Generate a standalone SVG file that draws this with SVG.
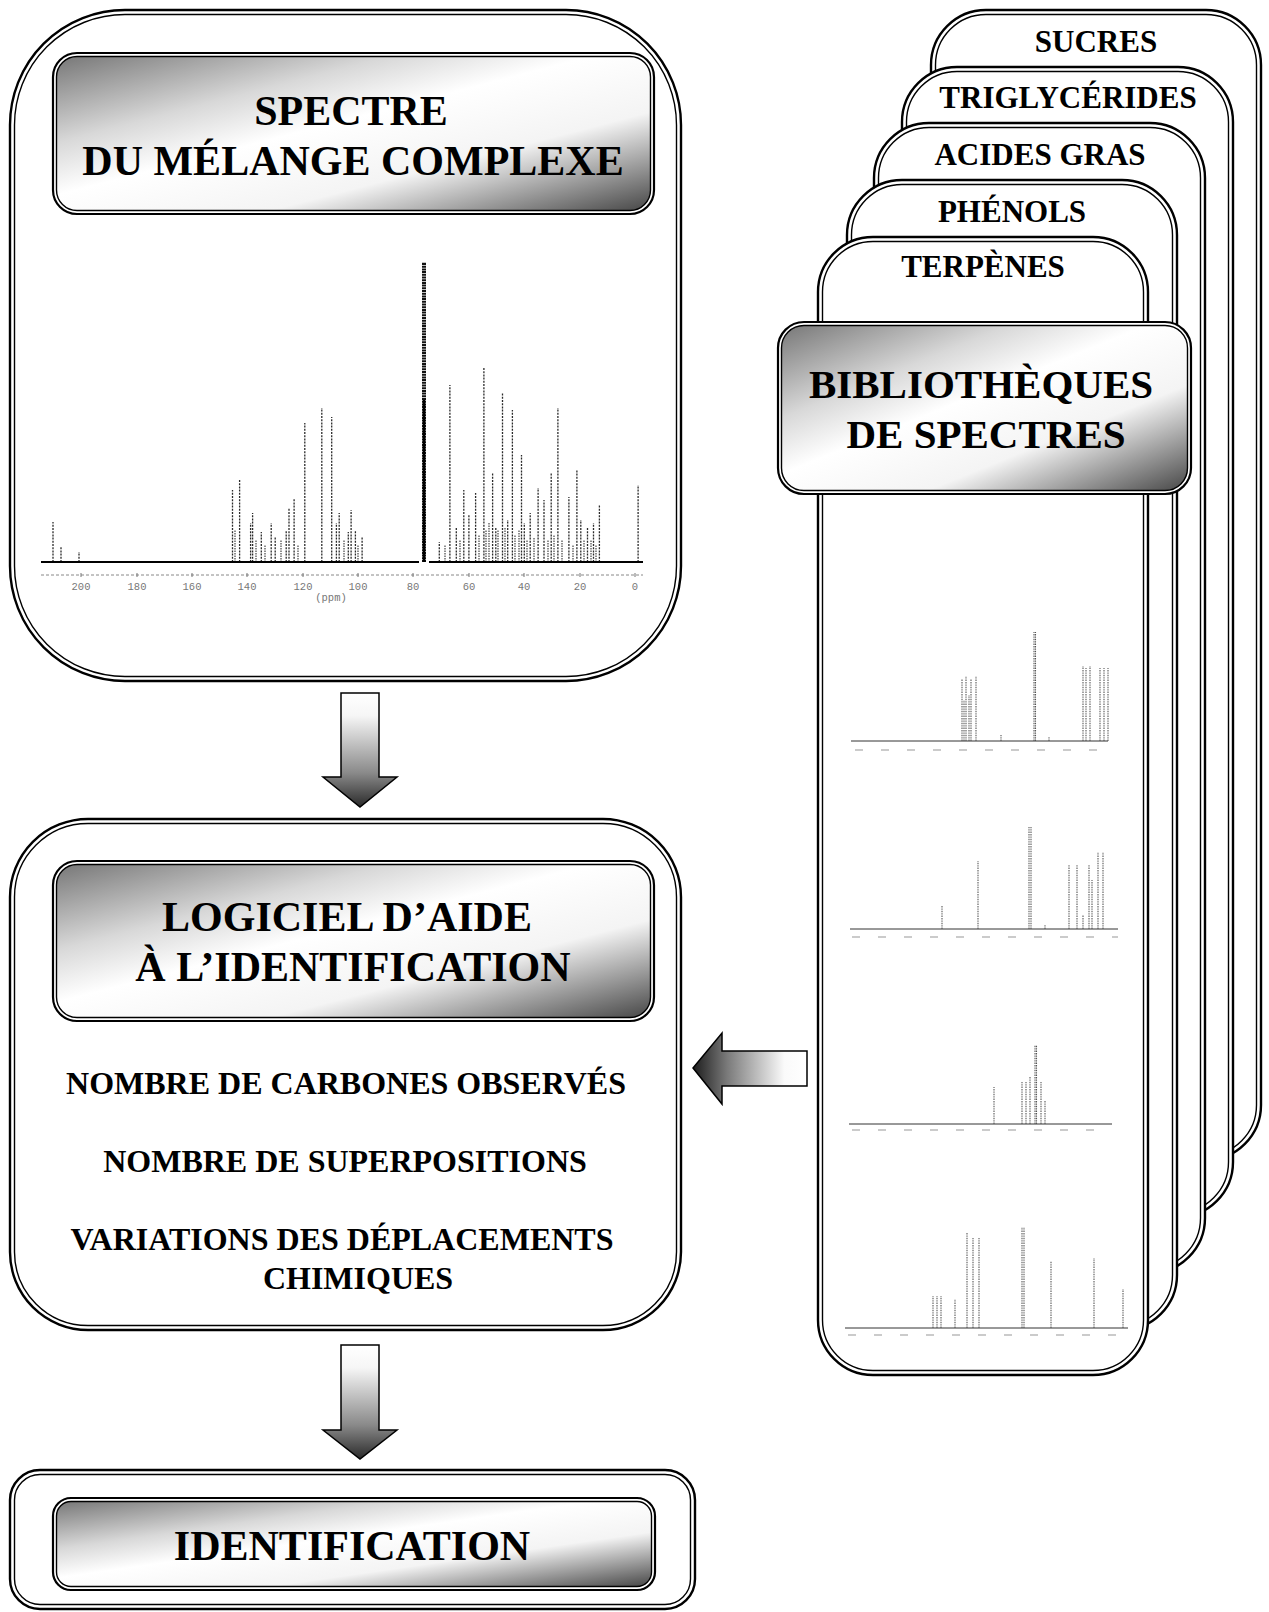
<svg xmlns="http://www.w3.org/2000/svg" width="1269" height="1612" viewBox="0 0 1269 1612">
<style>
.o{fill:#fff;stroke:#000;stroke-width:2.4}
.i{fill:none;stroke:#000;stroke-width:1.4}
.ho{fill:#fff;stroke:#000;stroke-width:2.2}
.hi{fill:url(#hg);stroke:#000;stroke-width:1.4}
.t{font-family:"Liberation Serif","Times New Roman",serif;font-weight:bold;fill:#000;text-anchor:middle}
.pk{fill:none;stroke:#2a2a2a;stroke-width:1.3;stroke-dasharray:2 1.2}
.pk2{fill:none;stroke:#444;stroke-width:1.2;stroke-dasharray:1.5 1}
.spk{fill:none;stroke:#555;stroke-width:1.1;stroke-dasharray:1.4 1}
.bl{fill:none;stroke:#000;stroke-width:2.2}
.sbl{fill:none;stroke:#333;stroke-width:1}
.axl{fill:none;stroke:#888;stroke-width:1;stroke-dasharray:3 2}
.sax{fill:none;stroke:#bbb;stroke-width:1.5;stroke-dasharray:8 18}
.ax{font-family:"Liberation Mono","Courier New",monospace;font-size:10.5px;fill:#777;text-anchor:middle}
.arr{stroke:#000;stroke-width:1.5}
</style>
<defs>
<linearGradient id="hg" x1="0" y1="0" x2="1" y2="1">
<stop offset="0" stop-color="#777"/>
<stop offset="0.28" stop-color="#d8d8d8"/>
<stop offset="0.45" stop-color="#fff"/>
<stop offset="0.68" stop-color="#f4f4f4"/>
<stop offset="1" stop-color="#474747"/>
</linearGradient>
<linearGradient id="dg" x1="0" y1="0" x2="0" y2="1">
<stop offset="0" stop-color="#fff"/>
<stop offset="0.2" stop-color="#f6f6f6"/>
<stop offset="0.7" stop-color="#8a8a8a"/>
<stop offset="1" stop-color="#2a2a2a"/>
</linearGradient>
<linearGradient id="lg" x1="0" y1="0" x2="1" y2="0">
<stop offset="0" stop-color="#1c1c1c"/>
<stop offset="0.3" stop-color="#7a7a7a"/>
<stop offset="0.8" stop-color="#fafafa"/>
<stop offset="1" stop-color="#fff"/>
</linearGradient>
</defs>

<g id="spectre-melange">
<rect class="o" x="10" y="10" width="671" height="671" rx="115"/>
<rect class="i" x="14.5" y="14.5" width="662" height="662" rx="110.5"/>
<rect class="ho" x="53" y="53" width="601" height="161" rx="24"/>
<rect class="hi" x="56.5" y="56.5" width="594" height="154" rx="20.5"/>
<text class="t" x="351" y="125" font-size="42">SPECTRE</text>
<text class="t" x="353" y="175" font-size="42">DU MÉLANGE COMPLEXE</text>
<g id="spectrum-main">
<path class="pk" d="M53 562V522M61 562V547M79 562V552M232.5 562V490M239.6 562V480M250.6 562V523M252.6 562V513M261.3 562V532M271.2 562V523M275.2 562V537M286.2 562V530M289 562V508M294.1 562V498M304.8 562V423M321.8 562V408M331.7 562V417M336.4 562V523M339.2 562V513M348.3 562V532M351.1 562V510M355.4 562V530M362.1 562V537M439.3 562V542M449.9 562V385M456.3 562V527M463.8 562V490M468.9 562V515M475.6 562V493M483.9 562V368M492.6 562V473M495.8 562V527M502.5 562V393M507.7 562V520M512.4 562V410M521.5 562V455M524.3 562V523M530.2 562V513M538.1 562V488M544 562V500M551.2 562V473M557.9 562V408M568.9 562V497M576.9 562V470M580.8 562V520M587.5 562V527M593.5 562V523M599.4 562V505M638.1 562V485"/>
<path class="pk2" d="M445 562V545M460 562V540M479 562V535M486 562V530M489 562V522M498 562V530M505 562V528M515 562V535M519 562V530M527 562V540M534 562V538M548 562V540M554 562V535M562 562V540M573 562V545M584 562V540M591 562V540M596 562V545M235 562V530M256 562V540M265 562V545M281 562V540M298 562V545M344 562V540M358 562V545"/>
<path d="M424 562V262" fill="none" stroke="#111" stroke-width="4" stroke-dasharray="2 0.7"/>
<path d="M424 562V400" fill="none" stroke="#000" stroke-width="2.5"/>
<path class="bl" d="M41 562H419M429 562H643"/>
<path class="axl" d="M41 575H643"/>
<path fill="none" stroke="#777" stroke-width="1" d="M81 573v4M137 573v4M192 573v4M247 573v4M303 573v4M358 573v4M413 573v4M469 573v4M524 573v4M580 573v4M635 573v4"/>
<text class="ax" x="81" y="590">200</text>
<text class="ax" x="137" y="590">180</text>
<text class="ax" x="192" y="590">160</text>
<text class="ax" x="247" y="590">140</text>
<text class="ax" x="303" y="590">120</text>
<text class="ax" x="358" y="590">100</text>
<text class="ax" x="413" y="590">80</text>
<text class="ax" x="469" y="590">60</text>
<text class="ax" x="524" y="590">40</text>
<text class="ax" x="580" y="590">20</text>
<text class="ax" x="635" y="590">0</text>
<text class="ax" x="331" y="601">(ppm)</text>
</g>
</g>

<g id="logiciel">
<rect class="o" x="10" y="819" width="671" height="511" rx="78"/>
<rect class="i" x="14.5" y="823.5" width="662" height="502" rx="73.5"/>
<rect class="ho" x="53" y="861" width="601" height="160" rx="24"/>
<rect class="hi" x="56.5" y="864.5" width="594" height="153" rx="20.5"/>
<text class="t" x="347" y="931" font-size="42">LOGICIEL D’AIDE</text>
<text class="t" x="353" y="981" font-size="42">À L’IDENTIFICATION</text>
<text class="t" x="346" y="1094" font-size="32">NOMBRE DE CARBONES OBSERVÉS</text>
<text class="t" x="345" y="1172" font-size="32">NOMBRE DE SUPERPOSITIONS</text>
<text class="t" x="342" y="1250" font-size="32">VARIATIONS DES DÉPLACEMENTS</text>
<text class="t" x="358" y="1289" font-size="32">CHIMIQUES</text>
</g>

<g id="identification">
<rect class="o" x="10" y="1470" width="685" height="139" rx="30"/>
<rect class="i" x="14.5" y="1474.5" width="676" height="130" rx="25.5"/>
<rect class="ho" x="53" y="1498" width="602" height="92" rx="18"/>
<rect class="hi" x="56.5" y="1501.5" width="595" height="85" rx="14.5"/>
<text class="t" x="352" y="1560" font-size="42">IDENTIFICATION</text>
</g>

<g id="bibliotheques">
<g id="card-sucres">
<rect class="o" x="931" y="10" width="330" height="1150" rx="55"/>
<rect class="i" x="935.5" y="14.5" width="321" height="1141" rx="50.5"/>
<text class="t" x="1096" y="52" font-size="31">SUCRES</text>
</g>
<g id="card-triglycerides">
<rect class="o" x="902" y="67" width="331" height="1150" rx="55"/>
<rect class="i" x="906.5" y="71.5" width="322" height="1141" rx="50.5"/>
<text class="t" x="1068" y="108" font-size="31">TRIGLYCÉRIDES</text>
</g>
<g id="card-acides-gras">
<rect class="o" x="874" y="123" width="331" height="1150" rx="55"/>
<rect class="i" x="878.5" y="127.5" width="322" height="1141" rx="50.5"/>
<text class="t" x="1040" y="165" font-size="31">ACIDES GRAS</text>
</g>
<g id="card-phenols">
<rect class="o" x="847" y="180" width="330" height="1150" rx="55"/>
<rect class="i" x="851.5" y="184.5" width="321" height="1141" rx="50.5"/>
<text class="t" x="1012" y="222" font-size="31">PHÉNOLS</text>
</g>
<g id="card-terpenes">
<rect class="o" x="818" y="237" width="330" height="1138" rx="55"/>
<rect class="i" x="822.5" y="241.5" width="321" height="1129" rx="50.5"/>
<text class="t" x="983" y="277" font-size="31">TERPÈNES</text>
<g id="spectra-library">
<path class="sbl" d="M851 741H1108"/>
<path class="sax" d="M855 750H1108"/>
<path class="spk" d="M962 741V679M966 741V676M971 741V679M976 741V676M964 741V700M969 741V695M1034 741V632M1035.5 741V632M1083 741V666M1086 741V668M1090 741V666M1100 741V668M1104 741V668M1108 741V668M1001 741V735M1049 741V737"/>
<path class="sbl" d="M850 929H1118"/>
<path class="sax" d="M852 937H1118"/>
<path class="spk" d="M942 929V906M978 929V861M1029 929V827M1031 929V827M1069 929V865M1077 929V865M1089 929V865M1092 929V880M1098 929V852M1103 929V852M1045 929V925M1083 929V915"/>
<path class="sbl" d="M849 1124H1112"/>
<path class="sax" d="M852 1130H1112"/>
<path class="spk" d="M994 1124V1087M1022 1124V1082M1026 1124V1082M1030 1124V1077M1035 1124V1045M1036.5 1124V1045M1041 1124V1082M1045 1124V1100"/>
<path class="sbl" d="M845 1328H1128"/>
<path class="sax" d="M848 1335H1128"/>
<path class="spk" d="M933 1328V1296M937 1328V1296M941 1328V1296M955 1328V1299M967 1328V1233M973 1328V1238M979 1328V1238M1022 1328V1227M1024 1328V1227M1051 1328V1261M1094 1328V1258M1123 1328V1289"/>
</g>
</g>
<g id="header-bibliotheques">
<rect class="ho" x="778" y="322" width="413" height="172" rx="26"/>
<rect class="hi" x="781.5" y="325.5" width="406" height="165" rx="22.5"/>
<text class="t" x="981" y="398" font-size="41">BIBLIOTHÈQUES</text>
<text class="t" x="986" y="448" font-size="41">DE SPECTRES</text>
</g>
</g>

<g id="connectors">
<polygon class="arr" fill="url(#dg)" points="341,693 379,693 379,777 397,777 360,807 323,777 341,777"/>
<polygon class="arr" fill="url(#dg)" points="341,1345 379,1345 379,1430 397,1430 360,1459 323,1430 341,1430"/>
<polygon class="arr" fill="url(#lg)" points="807,1051 722,1051 722,1033 693,1068 722,1104 722,1086 807,1086"/>
</g>
</svg>
